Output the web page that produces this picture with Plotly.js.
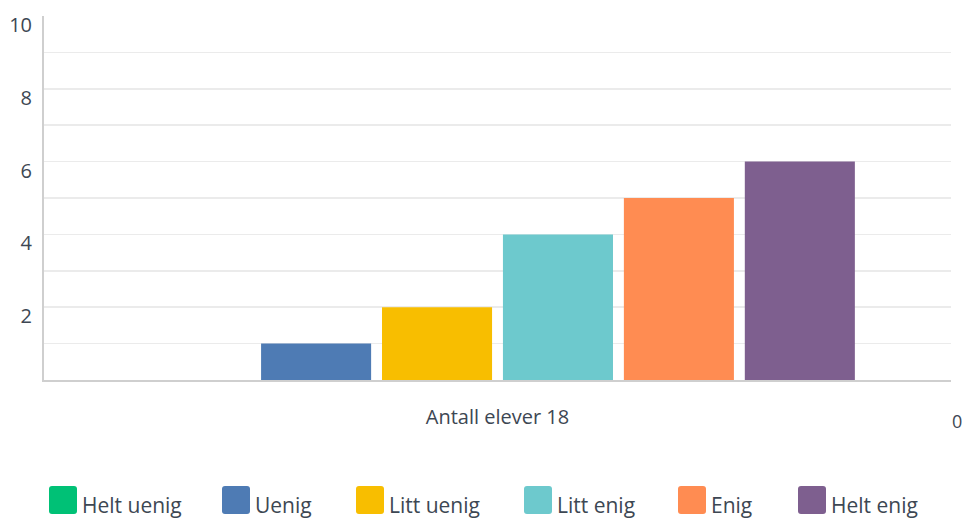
<!DOCTYPE html>
<html>
<head>
<meta charset="utf-8">
<script src="https://cdn.plot.ly/plotly-3.0.1.min.js"></script>
<style>
  html, body { margin: 0; padding: 0; background: #ffffff; }
  #chart { width: 964px; height: 519px; }
</style>
</head>
<body>
<div id="chart"></div>
<script>
// Survey answers, one bar per response option
const groupLabel = ["Antall elever 18"];
const answers = ["Helt uenig", "Uenig", "Litt uenig", "Litt enig", "Enig", "Helt enig"];
const counts = [0, 1, 2, 4, 5, 6];
const colors = ["#00c176", "#4e7bb4", "#f8be00", "#6dc9cd", "#ff8c52", "#7e5f8f"];
const yTicks = [2, 4, 6, 8, 10];

const textColor = "#3d4753";
const font = "Open Sans, sans-serif";

// plot area geometry in pixels
const M = { l: 44, r: 13, t: 16, b: 139 };
const W = 964, H = 519;
const pw = W - M.l - M.r, ph = H - M.t - M.b;
const px = x => (x - M.l) / pw;
const py = y => (H - M.b - y) / ph;

const traces = answers.map((name, i) => ({
  type: "bar",
  name: name,
  x: groupLabel,
  y: [counts[i]],
  marker: { color: colors[i] },
  hoverinfo: "name+y",
  showlegend: false
}));

// custom legend: rounded swatches with labels underneath the chart
const legendSwatchX = [49, 222, 356, 524, 678, 798];
const shapes = [];
const annotations = [];
legendSwatchX.forEach((x0, i) => {
  const x1 = x0 + 28, y0 = 486, y1 = 514, r = 3;
  const X0 = px(x0), X1 = px(x1), Y0 = py(y0), Y1 = py(y1);
  const rx = r / pw, ry = r / ph;
  shapes.push({
    type: "path", xref: "paper", yref: "paper",
    path: `M${X0 + rx},${Y0} L${X1 - rx},${Y0} Q${X1},${Y0} ${X1},${Y0 - ry} ` +
          `L${X1},${Y1 + ry} Q${X1},${Y1} ${X1 - rx},${Y1} L${X0 + rx},${Y1} ` +
          `Q${X0},${Y1} ${X0},${Y1 + ry} L${X0},${Y0 - ry} Q${X0},${Y0} ${X0 + rx},${Y0} Z`,
    fillcolor: colors[i], line: { width: 0 }
  });
  annotations.push({
    xref: "paper", yref: "paper", x: px(x1 + 3), y: py(505),
    xanchor: "left", yanchor: "middle", showarrow: false,
    text: answers[i], font: { family: font, size: 21, color: textColor }
  });
});

// stray zero label at the right end of the category axis
annotations.push({
  xref: "paper", yref: "paper", x: px(957), y: py(421),
  xanchor: "center", yanchor: "middle", showarrow: false,
  text: "0", font: { family: font, size: 18, color: textColor }
});

const layout = {
  width: W, height: H,
  margin: M,
  paper_bgcolor: "#ffffff",
  plot_bgcolor: "#ffffff",
  barmode: "group",
  bargap: 0.2,
  bargroupgap: 0.09,
  showlegend: false,
  font: { family: font, color: textColor },
  xaxis: {
    showgrid: false,
    showline: true, linecolor: "#cfcfcf", linewidth: 2,
    ticks: "", ticklabelstandoff: 18,
    tickfont: { family: font, size: 20, color: textColor },
    fixedrange: true
  },
  yaxis: {
    range: [0, 10],
    tickvals: yTicks,
    ticktext: yTicks.map(String),
    showline: true, linecolor: "#cfcfcf", linewidth: 2,
    showgrid: true, gridcolor: "#ebebeb", gridwidth: 1.5,
    minor: { dtick: 1, showgrid: true, gridcolor: "#ebebeb", gridwidth: 1.5 },
    zeroline: false,
    ticks: "", ticklabelstandoff: 6, ticklabelshift: 9,
    tickfont: { family: font, size: 20, color: textColor },
    fixedrange: true
  },
  shapes: shapes,
  annotations: annotations
};

Plotly.newPlot("chart", traces, layout, { displayModeBar: false, staticPlot: true });
</script>
</body>
</html>
